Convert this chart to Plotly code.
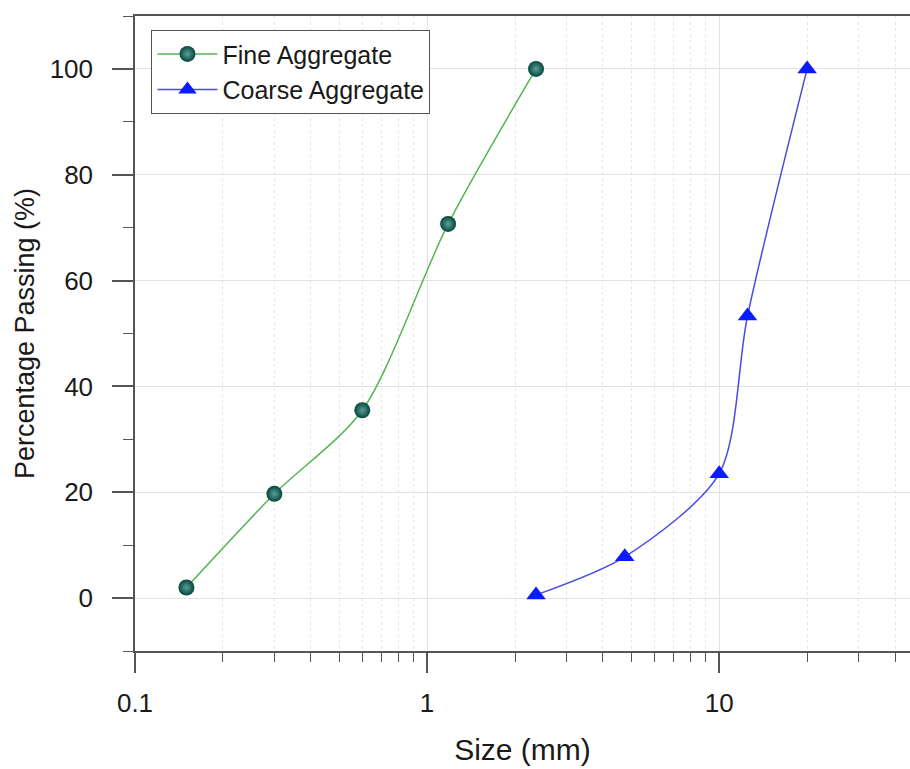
import plotly.graph_objects as go
import math

fine_size = [0.15, 0.3, 0.6, 1.18, 2.36]
fine_pass = [2.0, 19.7, 35.5, 70.7, 100.0]
coarse_size = [2.36, 4.75, 10.0, 12.5, 20.0]
coarse_pass = [0.6, 7.8, 23.5, 53.3, 100.0]
y_ticks = [0, 20, 40, 60, 80, 100]
x_ticks = [0.1, 1, 10]
x_ticktext = ["0.1", "1", "10"]
x_minor = [0.2, 0.3, 0.4, 0.5, 0.6, 0.7, 0.8, 0.9,
           2, 3, 4, 5, 6, 7, 8, 9, 20, 30, 40]

FONT = "Liberation Sans, Arial, sans-serif"

fig = go.Figure()
fig.add_trace(go.Scatter(
    x=fine_size, y=fine_pass, name="Fine Aggregate",
    mode="lines+markers", line=dict(color="#55b555", width=1.5, shape="spline", smoothing=0.8),
    marker=dict(symbol="circle", size=16, color="#05463f",
                gradient=dict(type="radial", color="#5aa096"),
                line=dict(width=0)),
))
fig.add_trace(go.Scatter(
    x=coarse_size, y=coarse_pass, name="Coarse Aggregate",
    mode="lines+markers", line=dict(color="#4a4ae6", width=1.5, shape="spline", smoothing=0.8),
    marker=dict(symbol="triangle-up", size=17, color="#0a1cff", line=dict(width=0)),
))

fig.update_layout(
    width=910, height=769,
    margin=dict(l=135, r=0, t=16, b=118),
    paper_bgcolor="white", plot_bgcolor="white",
    font=dict(family=FONT, size=26, color="#1a1a1a"),
    showlegend=True,
    legend=dict(x=0.021, y=0.978, xanchor="left", yanchor="top",
                bgcolor="white", bordercolor="#555555", borderwidth=1.2,
                font=dict(size=25), tracegroupgap=0, itemwidth=60),
)
fig.update_xaxes(
    type="log", range=[-1, math.log10(45)],
    tickvals=x_ticks, ticktext=x_ticktext,
    ticks="outside", ticklen=20, tickwidth=1.5, tickcolor="#555555",
    showline=True, linecolor="#555555", linewidth=1.5, mirror=True,
    showgrid=True, gridcolor="#e2e2e2", gridwidth=1,
    minor=dict(tickvals=x_minor, ticks="outside", ticklen=9, tickwidth=1.2, tickcolor="#555555",
               showgrid=True, gridcolor="#e6e6e6", griddash="dot"),
    zeroline=False,
    ticklabelstandoff=8,
    title=dict(text="Size (mm)", font=dict(size=30), standoff=22),
)
fig.update_yaxes(
    range=[-10, 110],
    tickvals=y_ticks,
    ticks="outside", ticklen=21, tickwidth=1.5, tickcolor="#555555",
    showline=True, linecolor="#555555", linewidth=1.5,
    showgrid=True, gridcolor="#e2e2e2", gridwidth=1,
    minor=dict(dtick=10, ticks="outside", ticklen=10, tickwidth=1.2, tickcolor="#555555", showgrid=False),
    zeroline=False,
    ticklabelstandoff=14,
    title=dict(text="Percentage Passing (%)", font=dict(size=27), standoff=7),
)

fig.write_html("out.html")
